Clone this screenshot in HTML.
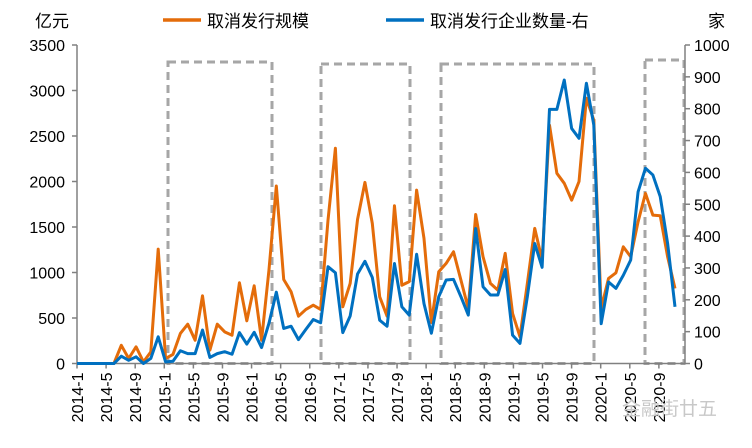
<!DOCTYPE html>
<html><head><meta charset="utf-8">
<style>
body{margin:0;background:#fff;}
svg text{font-family:"Liberation Sans","Noto Sans CJK SC",sans-serif;fill:#000;}
</style></head>
<body>
<svg id="chart" width="752" height="443" viewBox="0 0 752 443" xmlns="http://www.w3.org/2000/svg">
<g id="boxes"></g>
<g id="axes"></g>
<g id="series"></g>
<g id="legend">
  <text x="35" y="27" font-size="17">亿元</text>
  <text x="708" y="27" font-size="17">家</text>
  <line x1="163" y1="20" x2="201" y2="20" stroke="#E46C0A" stroke-width="3.5"/>
  <text x="207" y="27" font-size="17">取消发行规模</text>
  <line x1="386" y1="20" x2="424" y2="20" stroke="#0070C0" stroke-width="3.5"/>
  <text x="430" y="27" font-size="17">取消发行企业数量-右</text>
</g>
<text x="622" y="415" font-size="19" style="fill:#c8c8c8">金融街廿五</text>
</svg>
<script>
const tickLabels=["2014-1","2014-5","2014-9","2015-1","2015-5","2015-9","2016-1","2016-5","2016-9","2017-1","2017-5","2017-9","2018-1","2018-5","2018-9","2019-1","2019-5","2019-9","2020-1","2020-5","2020-9"];
const leftTicks=[0,500,1000,1500,2000,2500,3000,3500];
const rightTicks=[0,100,200,300,400,500,600,700,800,900,1000];
const amount=[0,0,0,0,0,0,200,55,183,18,128,1257,55,100,330,432,256,744,147,432,348,311,887,469,854,256,1026,1950,923,788,520,594,641,594,1575,2365,623,880,1583,1990,1539,733,520,1733,860,900,1905,1375,450,1008,1100,1228,917,605,1638,1173,880,806,1210,550,293,880,1485,1136,2620,2090,1980,1795,2000,2915,2675,605,935,997,1282,1173,1558,1869,1631,1624,1173,825];
const count=[0,0,0,0,0,0,23,10,21,0,16,84,5,7,40,31,31,105,19,31,37,29,97,61,98,50,126,224,110,117,75,107,138,128,304,285,97,149,281,321,270,136,117,314,178,152,343,188,95,210,262,264,210,152,424,241,215,215,295,89,63,210,377,302,798,798,890,738,707,880,749,125,256,236,277,325,539,613,592,524,377,178];
const boxes=[[168,272,62],[321,410,64],[441,594,64],[645,684,60]];

const NS="http://www.w3.org/2000/svg";
function mk(tag,attrs,parent){const e=document.createElementNS(NS,tag);for(const k in attrs)e.setAttribute(k,attrs[k]);parent.appendChild(e);return e;}
const X0=77,XR=685,Y0=363.5,YT=45;
const yL=v=>Y0-(v/3500)*(Y0-YT);
const yR=v=>Y0-(v/1000)*(Y0-YT);
const xData=i=>X0+i*(675-X0)/(amount.length-1);
const xTick=k=>X0+k*4*(600.7-X0)/72;

const bx=document.getElementById('boxes');
boxes.forEach((b,i)=>{
  const r=mk('rect',{x:b[0],y:b[2],width:b[1]-b[0],height:Y0-b[2],fill:'none',stroke:'#A6A6A6','stroke-width':3,'stroke-dasharray':'8,5'},bx);
  
  
});

const ax=document.getElementById('axes');
let l=mk('line',{x1:X0,y1:YT,x2:X0,y2:Y0,stroke:'#808080','stroke-width':1.5},ax);


l=mk('line',{x1:XR,y1:YT,x2:XR,y2:Y0,stroke:'#808080','stroke-width':1.5},ax);


l=mk('line',{x1:X0,y1:Y0,x2:XR,y2:Y0,stroke:'#808080','stroke-width':1.5},ax);


leftTicks.forEach(v=>{
  mk('line',{x1:X0-5,y1:yL(v),x2:X0,y2:yL(v),stroke:'#808080','stroke-width':1.5},ax);
  const t=mk('text',{x:X0-12,y:yL(v)+6,'font-size':16,'text-anchor':'end'},ax);
  t.textContent=v;
  
  
});
rightTicks.forEach(v=>{
  mk('line',{x1:XR,y1:yR(v),x2:XR+5,y2:yR(v),stroke:'#808080','stroke-width':1.5},ax);
  const t=mk('text',{x:XR+9,y:yR(v)+6,'font-size':16},ax);
  t.textContent=v;
  
  
});
tickLabels.forEach((s,k)=>{
  const x=xTick(k);
  mk('line',{x1:x,y1:Y0,x2:x,y2:Y0+5,stroke:'#808080','stroke-width':1.5},ax);
  const t=mk('text',{x:0,y:0,'font-size':16,'text-anchor':'end',transform:`translate(${x+6},${Y0+9}) rotate(-90)`},ax);
  t.textContent=s;
  
  
});

const sg=document.getElementById('series');
let p=mk('polyline',{points:amount.map((v,i)=>xData(i)+','+yL(v)).join(' '),fill:'none',stroke:'#E46C0A','stroke-width':3,'stroke-linejoin':'round'},sg);


p=mk('polyline',{points:count.map((v,i)=>xData(i)+','+yR(v)).join(' '),fill:'none',stroke:'#0070C0','stroke-width':3,'stroke-linejoin':'round'},sg);


</script>
</body></html>
